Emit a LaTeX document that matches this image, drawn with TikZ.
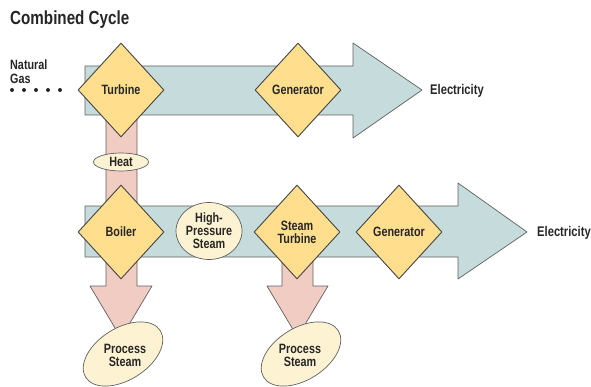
\documentclass[tikz,border=0pt]{standalone}
\usepackage{fontspec}
\setmainfont{Liberation Sans}[FakeStretch=0.8]
\usetikzlibrary{shapes.geometric}
\definecolor{bandblue}{RGB}{198,220,220}
\definecolor{heatpink}{RGB}{241,204,194}
\definecolor{unityellow}{RGB}{255,223,142}
\definecolor{tagcream}{RGB}{253,243,211}
\definecolor{edgegray}{RGB}{95,95,95}
\tikzset{
  band/.style={fill=bandblue,draw=edgegray,line width=0.7pt,line join=round},
  heat/.style={fill=heatpink,draw=edgegray,line width=0.7pt,line join=round},
  unit/.style={diamond,fill=unityellow,draw=edgegray!70!black,line width=0.9pt,inner sep=0pt,
    minimum width=86pt,minimum height=94pt,align=center,text=black!85,font=\fontsize{13.5}{14}\selectfont\bfseries},
  tag/.style={ellipse,fill=tagcream,draw=edgegray,line width=0.7pt,inner sep=0pt},
  lbl/.style={align=center,inner sep=0pt,text=black!85,font=\fontsize{13.5}{14}\selectfont\bfseries}
}
\begin{document}
\begin{tikzpicture}[x=1pt,y=-1pt,line cap=round]
\useasboundingbox (0,0) rectangle (591,387);
\node[anchor=base west,inner sep=0pt,text=black!85,font=\fontsize{19}{20}\selectfont\bfseries] (title) at (10,25) {Combined Cycle};
% heat going down
\draw[heat] (106,110)--(137,110)--(137,286)--(152,286)--(121,338)--(90,286)--(106,286)--cycle;
\draw[heat] (282,250)--(313,250)--(313,286)--(328,286)--(297.5,337)--(267,286)--(282,286)--cycle;
% power arrows
\draw[band] (85,66)--(353,66)--(353,43)--(422,90)--(353,138)--(353,115)--(85,115)--cycle;
\draw[band] (85,206)--(458,206)--(458,183)--(527,232)--(458,279)--(458,257)--(85,257)--cycle;
% units
\node[unit] (turbine) at (121,90) {Turbine};
\node[unit] (gen1) at (298,90) {Generator};
\node[unit] (boiler) at (121,232) {Boiler};
\node[unit] (steamturb) at (297,232) {Steam\\[-1pt]Turbine};
\node[unit] (gen2) at (399,232) {Generator};
% tags
\node[tag,minimum width=55pt,minimum height=18pt,lbl] (heattag) at (121,162) {Heat};
\node[tag,minimum width=66pt,minimum height=57pt,lbl] (hpsteam) at (209,231) {High-\\[-1pt]Pressure\\[-1pt]Steam};
\node[tag,minimum width=88pt,minimum height=52pt,rotate=32] (ps1) at (123,354) {};
\node[lbl] (ps1txt) at (125,355) {Process\\[-1pt]Steam};
\node[tag,minimum width=88pt,minimum height=52pt,rotate=32] (ps2) at (301,354) {};
\node[lbl] (ps2txt) at (300,355) {Process\\[-1pt]Steam};
% inputs and outputs
\node[lbl,anchor=west,align=left,font=\fontsize{13.5}{14}\selectfont\bfseries] (gas) at (10,72) {Natural\\Gas};
\foreach \x in {12,24,36,48,60}
  \fill[black!85] (\x,90) circle (2pt);
\node[lbl,anchor=west,font=\fontsize{14}{15}\selectfont\bfseries] (elec1) at (430,91) {Electricity};
\node[lbl,anchor=west,font=\fontsize{14}{15}\selectfont\bfseries] (elec2) at (537,233) {Electricity};
\end{tikzpicture}
\end{document}
